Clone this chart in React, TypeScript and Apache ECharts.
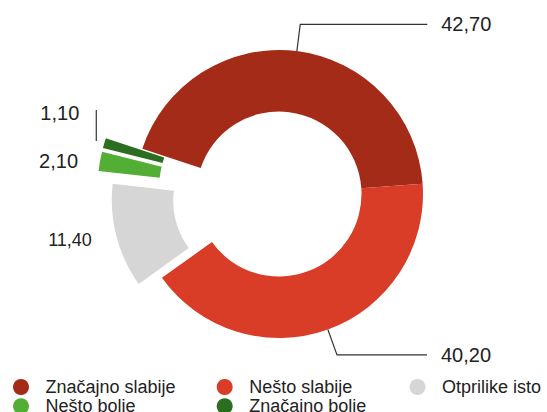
import React, { useEffect, useRef } from 'react';
import * as echarts from 'echarts';

// ---- data ----
const categories = ['Značajno slabije', 'Nešto slabije', 'Otprilike isto', 'Nešto bolie', 'Značaino bolie'];
const values = [42.7, 40.2, 11.4, 2.1, 1.1];
const colors = ['#a32b18', '#d93d28', '#d6d6d6', '#52ae34', '#2c6e20'];

// ---- presentation ----
const explodeGroup = [0, 0, 1, 2, 2];
const groupOffsets = [0, 24, 38];
const lineLen1 = [27, 27, 15, 3, 3];
const lineLen2 = [127, 90, 5, 14, 14];
const showLine = [true, true, false, false, true];
const labelSize = [20, 20, 18, 20, 20];
const labelGap = [14, 14, 5, 5, 5];
const labelPadTop = [4, 2, 0, 0, 0];
const legendColLeft = [13, 216.7, 409.5];
const legendRowTop = [378, 397.3];

const FONT = '"Liberation Sans", Arial, Helvetica, sans-serif';
const fmt = (v: number) => v.toFixed(2).replace('.', ',');

export default function App() {
  const ref = useRef<HTMLDivElement>(null);
  useEffect(() => {
    if (!ref.current) return;
    const chart = echarts.init(ref.current, undefined, { renderer: 'svg' });

    const series = groupOffsets.map((offset, g) => ({
      type: 'pie',
      radius: [82.5, 144],
      center: [279, 194],
      startAngle: 161.7,
      clockwise: true,
      silent: true,
      avoidLabelOverlap: false,
      selectedMode: offset > 0 ? 'multiple' : false,
      selectedOffset: offset,
      label: {
        show: true,
        position: 'outside',
        color: '#222',
        fontFamily: FONT,
        formatter: (p: any) => fmt(p.value),
      },
      labelLine: { lineStyle: { color: '#333', width: 1.2 } },
      labelLayout: (p: any) => {
        // the smallest slice: lift its label above the neighbouring one with a vertical leader
        if (p.dataIndex === 4 && p.labelLinePoints) {
          const pts = p.labelLinePoints;
          const start = [pts[0][0] - 8, pts[0][1] - 2];
          const top = [start[0], start[1] - 31];
          const oldRight = pts[2][0] - labelGap[4];
          return {
            hideOverlap: false,
            labelLinePoints: [start, top, top],
            dx: top[0] - 17 - oldRight,
            dy: top[1] + 3 - pts[2][1],
          };
        }
        return { hideOverlap: false };
      },
      data: categories.map((name, i) => {
        const visible = explodeGroup[i] === g;
        return {
          name: visible ? name : '',
          value: values[i],
          selected: visible && offset > 0,
          itemStyle: { color: visible ? colors[i] : 'rgba(0,0,0,0)' },
          label: {
            show: visible,
            fontSize: labelSize[i],
            distanceToLabelLine: labelGap[i],
            padding: [labelPadTop[i], 0, 0, 0],
          },
          labelLine: {
            show: visible && showLine[i],
            length: lineLen1[i],
            length2: lineLen2[i],
          },
        };
      }),
    }));

    const legends = categories.map((name, i) => ({
      left: legendColLeft[i % 3],
      top: legendRowTop[Math.floor(i / 3)],
      padding: 0,
      itemWidth: 39,
      itemHeight: 16,
      icon: 'circle',
      selectedMode: false,
      textStyle: { fontSize: 18, color: '#222', fontFamily: FONT, lineHeight: 16 },
      data: [{ name, itemStyle: { color: colors[i] } }],
    }));

    chart.setOption({
      animation: false,
      backgroundColor: '#fff',
      legend: legends,
      series,
    });
    return () => chart.dispose();
  }, []);
  return <div ref={ref} style={{ position: 'absolute', left: 0, top: 0, width: 547, height: 412 }} />;
}
